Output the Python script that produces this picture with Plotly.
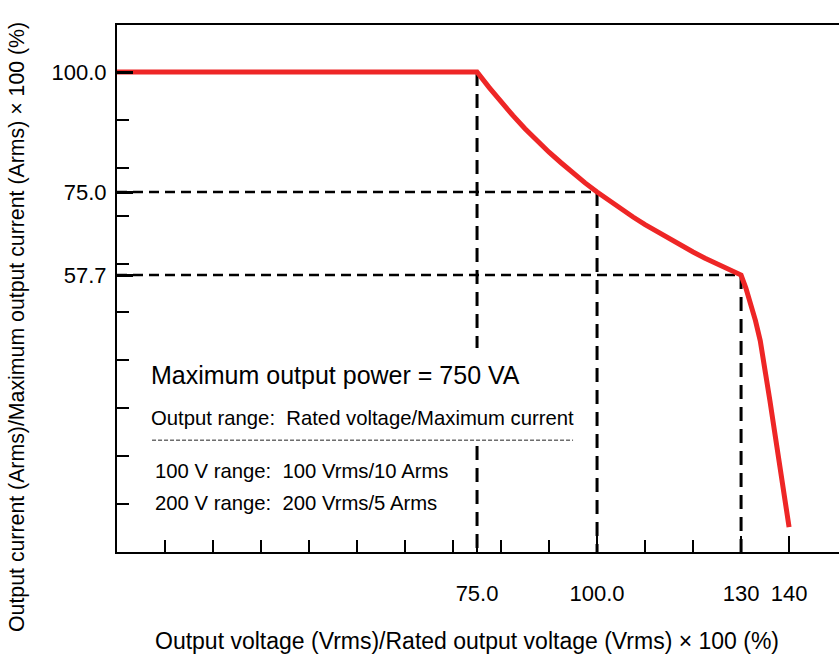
import plotly.graph_objects as go

# output characteristic (percent of rated voltage / percent of max current)
voltage_pct = [0, 75, 77.5, 80, 82.5, 85, 87.5, 90, 92.5, 95, 97.5, 100,
               102.5, 105, 107.5, 110, 112.5, 115, 117.5, 120, 122.5, 125, 127.5, 130,
               131, 132, 133, 134, 135, 136, 137, 138, 139, 140]
current_pct = [100, 100, 96.8, 93.7, 90.9, 88.2, 85.7, 83.3, 81.1, 78.9, 76.9, 75.0,
               73.2, 71.4, 69.8, 68.2, 66.7, 65.2, 63.8, 62.5, 61.2, 60.0, 58.8, 57.7,
               55.0, 51.9, 48.2, 44.0, 38.2, 31.6, 25.0, 18.4, 11.8, 5.2]

# reference points marked with dashed guides
guide_v = [75, 100, 130]
guide_i = [100, 75.0, 57.7]

x_tickvals = [50, 75, 100, 130, 140]
x_ticktext = ["", "75.0", "100.0", "130", "140"]
y_tickvals = [50, 57.7, 75, 100]
y_ticktext = ["", "57.7", "75.0", "100.0"]

FONT = "Liberation Sans, Arial, sans-serif"

fig = go.Figure()

# vertical dashed guides
for v, i in zip(guide_v, guide_i):
    fig.add_trace(go.Scatter(x=[v, v], y=[i, 0], mode="lines",
                             line=dict(color="black", width=3, dash="14px,8px"),
                             showlegend=False, hoverinfo="skip"))
# horizontal dashed guides (75 and 57.7)
for v, i in zip(guide_v[1:], guide_i[1:]):
    fig.add_trace(go.Scatter(x=[0, v], y=[i, i], mode="lines",
                             line=dict(color="black", width=2.5, dash="10px,6px"),
                             showlegend=False, hoverinfo="skip"))

fig.add_trace(go.Scatter(x=voltage_pct, y=current_pct, mode="lines",
                         line=dict(color="#EE2626", width=5),
                         showlegend=False))

# white box behind the note text
fig.add_shape(type="rect", x0=4, x1=97, y0=23.6, y1=42.5, xref="x", yref="y",
              fillcolor="white", line=dict(width=0), layer="above")
fig.add_shape(type="line", x0=7.3, x1=95, y0=23.3, y1=23.3, xref="x", yref="y",
              line=dict(color="#222222", width=1, dash="4px,2px"), layer="above")

notes = [
    ("Maximum output power = 750 VA", 6.67, 36.9, 25),
    ("Output range:\u00a0 Rated voltage/Maximum current", 6.67, 27.9, 20.3),
    ("100 V range:\u00a0 100 Vrms/10 Arms", 7.5, 16.9, 20.3),
    ("200 V range:\u00a0 200 Vrms/5 Arms", 7.5, 10.2, 20.3),
]
for text, x, y, size in notes:
    fig.add_annotation(text=text, x=x, y=y, xref="x", yref="y",
                       xanchor="left", yanchor="middle", showarrow=False,
                       font=dict(size=size, color="black", family=FONT))

# axis titles
fig.add_annotation(text="Output voltage (Vrms)/Rated output voltage (Vrms) × 100 (%)",
                   x=0.4848, y=-0.169, xref="paper", yref="paper",
                   xanchor="center", yanchor="middle", showarrow=False,
                   font=dict(size=23, color="black", family=FONT))
fig.add_annotation(text="Output current (Arms)/Maximum output current (Arms) × 100 (%)",
                   x=-0.1385, y=0.427, xref="paper", yref="paper", textangle=-90,
                   xanchor="center", yanchor="middle", showarrow=False,
                   font=dict(size=21.3, color="black", family=FONT))

fig.update_layout(
    width=839, height=662,
    margin=dict(l=117, r=0, t=25, b=110),
    plot_bgcolor="white", paper_bgcolor="white",
    font=dict(family=FONT, size=22, color="black"),
    xaxis=dict(range=[0, 150.4], showgrid=False, zeroline=False,
               showline=True, linecolor="black", linewidth=2, mirror=True,
               tickmode="array", tickvals=x_tickvals, ticktext=x_ticktext,
               ticks="inside", ticklen=16, tickwidth=2, tickcolor="black",
               ticklabelstandoff=21,
               minor=dict(tickvals=list(range(10, 150, 10)), ticks="inside",
                          ticklen=12, tickwidth=2, tickcolor="black")),
    yaxis=dict(range=[0, 109.8], showgrid=False, zeroline=False,
               showline=True, linecolor="black", linewidth=2,
               tickmode="array", tickvals=y_tickvals, ticktext=y_ticktext,
               ticks="inside", ticklen=16, tickwidth=2.5, tickcolor="black",
               ticklabelstandoff=4,
               minor=dict(tickvals=list(range(10, 110, 10)), ticks="inside",
                          ticklen=12, tickwidth=2, tickcolor="black")),
)

# drop the browser's default 8px body margin so the figure fills the window
fig.write_html("out.html", config={"displayModeBar": False},
               post_script="document.body.style.margin='0';")
